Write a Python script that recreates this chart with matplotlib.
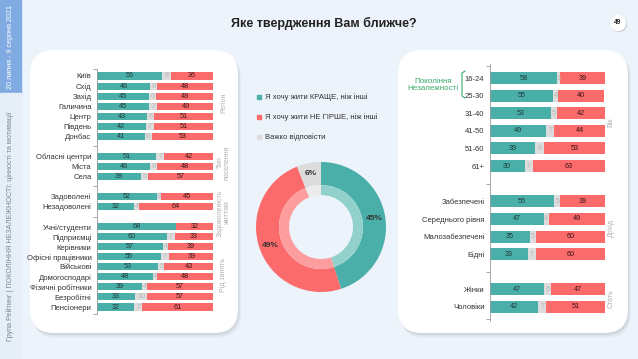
import matplotlib
matplotlib.use("Agg")
import matplotlib.pyplot as plt
from matplotlib.patches import FancyBboxPatch, Rectangle, Circle
import numpy as np

plt.rcParams['font.family'] = ['Liberation Sans', 'DejaVu Sans']

# ---- data ----
left_groups = ['Регіон', 'Тип\nпоселення', 'Задоволеність\nжиттям', 'Рід занять']
left_group_sizes = [7, 3, 2, 9]
left_labels = ['Київ', 'Схід', 'Захід', 'Галичина', 'Центр', 'Південь', 'Донбас',
               'Обласні центри', 'Міста', 'Села',
               'Задоволені', 'Незадоволені',
               'Учні/студенти', 'Підприємці', 'Керівники', 'Офісні працівники',
               'Військові', 'Домогосподарі', 'Фізичні робітники', 'Безробітні', 'Пенсіонери']
left_better = [56, 46, 45, 45, 43, 42, 41, 51, 46, 38, 52, 32, 68, 60, 57, 55, 53, 48, 39, 33, 32]
left_hard = [8, 6, 6, 7, 6, 7, 6, 7, 6, 6, 3, 4, 0, 7, 4, 7, 5, 4, 4, 10, 7]
left_notworse = [36, 48, 49, 49, 51, 51, 53, 42, 48, 57, 45, 64, 32, 33, 39, 39, 43, 48, 57, 57, 61]

right_groups = ['Вік', 'Дохід', 'Стать']
right_group_sizes = [6, 4, 2]
right_labels = ['16-24', '25-30', '31-40', '41-50', '51-60', '61+',
                'Забезпечені', 'Середнього рівня', 'Малозабезпечені', 'Бідні',
                'Жінки', 'Чоловіки']
right_better = [58, 55, 53, 49, 39, 30, 56, 47, 35, 33, 47, 42]
right_hard = [3, 4, 5, 7, 8, 7, 5, 4, 5, 7, 6, 7]
right_notworse = [39, 40, 42, 44, 53, 63, 39, 49, 60, 60, 47, 51]

total_labels = ['Я хочу жити КРАЩЕ, ніж інші', 'Я хочу жити НЕ ГІРШЕ, ніж інші', 'Важко відповісти']
total_values = [45, 49, 6]

# ---- style ----
W, H = 638, 359
BG = '#edf3fa'
TEAL = '#4aafa9'
RED = '#fc6b6b'
GREY = '#dcdcdc'
TEAL_L = '#92d0cc'
RED_L = '#fd9d9d'
GREY_L = '#ececec'
GREEN = '#3aa96b'


def box(x0, y0, x1, y1):
    return [x0 / W, 1 - y1 / H, (x1 - x0) / W, (y1 - y0) / H]


def rows_for(sizes):
    rows, bounds, r = [], [], 0
    for i, n in enumerate(sizes):
        rows.append(list(range(r, r + n)))
        r += n
        if i < len(sizes) - 1:
            bounds.append(r)
        r += 1
    return rows, bounds


def draw_bars(ax, labels, better, hard, worse, sizes, groups, h, fs, glabel_x, gshift):
    grows, bounds = rows_for(sizes)
    y = np.array([r for g in grows for r in g])
    better = np.array(better)
    hard = np.array(hard)
    worse = np.array(worse)
    ax.barh(y, better, height=h, color=TEAL)
    ax.barh(y, hard, left=better, height=h, color=GREY)
    ax.barh(y, worse, left=better + hard, height=h, color=RED)
    for yi, b, g, w in zip(y, better, hard, worse):
        ax.text(b / 2, yi, str(b), ha='center', va='center', fontsize=fs, color='#1d3b39')
        if g > 0:
            ax.text(b + g / 2, yi, str(g), ha='center', va='center', fontsize=fs, color='#b8b8b8')
        ax.text(b + g + w / 2, yi, str(w), ha='center', va='center', fontsize=fs, color='#3a1515')
    ax.set_xlim(0, 100)
    ax.set_ylim(y.max() + 0.7, -0.7)
    ax.set_yticks(y)
    ax.set_yticklabels(labels, fontsize=fs + 0.3, color='#333333')
    ax.tick_params(axis='y', length=0, pad=4)
    ax.set_xticks([])
    ax.set_yticks([-0.7] + bounds + [y.max() + 0.7], minor=True)
    ax.tick_params(axis='y', which='minor', length=3, color='#999999', width=0.6)
    for s in ['top', 'right', 'bottom']:
        ax.spines[s].set_visible(False)
    ax.spines['left'].set_color('#999999')
    ax.spines['left'].set_linewidth(0.6)
    ax.patch.set_alpha(0)
    for rs, name, sh in zip(grows, groups, gshift):
        ax.text(glabel_x, (rs[0] + rs[-1]) / 2 + sh, name, rotation=90, ha='center', va='center',
                fontsize=fs - 0.2, color='#b0b0b0', transform=ax.get_yaxis_transform(),
                linespacing=1.0)


fig = plt.figure(figsize=(W / 100, H / 100), dpi=100)
fig.patch.set_facecolor(BG)

bg = fig.add_axes([0, 0, 1, 1])
bg.set_xlim(0, W)
bg.set_ylim(H, 0)
bg.axis('off')

# side strip
bg.add_patch(Rectangle((0, 0), 21, 93, color='#80aae2', zorder=1))
bg.add_patch(Rectangle((0, 93), 21, H - 93, color='#e6eef8', zorder=1))
bg.text(10.5, 47, '20 липня - 9 серпня 2021', rotation=90, ha='center', va='center',
        fontsize=5.2, color='white')
bg.text(10.5, 226, 'Група Рейтинг | ПОКОЛІННЯ НЕЗАЛЕЖНОСТІ: цінності та мотивації', rotation=90,
        ha='center', va='center', fontsize=5.2, color='#7d8793')

# title and page number
bg.text(324, 23, 'Яке твердження Вам ближче?', ha='center', va='center', fontsize=9,
        fontweight='bold', color='#222222')
bg.add_patch(Circle((619, 24), 7.5, color='#c9cfd6', zorder=2))
bg.add_patch(Circle((618, 23), 7.5, color='white', zorder=3))
bg.text(618, 23, '49', ha='center', va='center', fontsize=4.8, fontweight='bold', color='#222222', zorder=4)

# panels with soft shadow
for x0, y0, x1, y1 in [(30, 50, 238, 333), (398, 50, 628, 333)]:
    for k, a in [(5, 0.08), (3.5, 0.12), (2, 0.18)]:
        bg.add_patch(FancyBboxPatch((x0 + k * 0.6, y0 + k), x1 - x0, y1 - y0,
                                    boxstyle='round,pad=0,rounding_size=24',
                                    fc='#9aa3ad', ec='none', alpha=a, zorder=2))
    bg.add_patch(FancyBboxPatch((x0, y0), x1 - x0, y1 - y0, boxstyle='round,pad=0,rounding_size=24',
                                fc='white', ec='none', zorder=3))

# left bars
axl = fig.add_axes(box(97, 76 - 0.7 * 10.05, 213, 307 + 0.7 * 10.05))
draw_bars(axl, left_labels, left_better, left_hard, left_notworse, left_group_sizes,
          left_groups, 0.7, 5.2, 1.09, [-0.3, -0.4, 1.2, 0.8])

# right bars
axr = fig.add_axes(box(490, 78 - 0.8 * 17.6, 605, 307 + 0.8 * 17.6))
draw_bars(axr, right_labels, right_better, right_hard, right_notworse, right_group_sizes,
          right_groups, 0.68, 5.2, 1.05, [0, 0, 0])
axr.set_ylim(13.8, -0.8)

# generation bracket
bg.text(433, 85, 'Покоління\nНезалежності', ha='center', va='center', fontsize=5.8,
        color=GREEN, linespacing=1.0, zorder=5)
bg.plot([465, 462, 462, 465], [71, 73, 96, 98], color=GREEN, lw=0.8, zorder=5)

# legend
for i, (lab, c) in enumerate(zip(total_labels, [TEAL, RED, GREY])):
    yy = 97 + i * 20
    bg.add_patch(Rectangle((257, yy - 2), 4, 4, color=c, zorder=5))
    bg.text(265, yy, lab, ha='left', va='center', fontsize=5.5, color='#333333', zorder=5)

# donut
axd = fig.add_axes(box(321 - 70, 227 - 70, 321 + 70, 227 + 70))
axd.set_xlim(-70, 70)
axd.set_ylim(-70, 70)
axd.set_aspect('equal')
axd.axis('off')
axd.pie(total_values, radius=65, colors=[TEAL, RED, GREY], startangle=90, counterclock=False,
        wedgeprops=dict(width=23, linewidth=0))
axd.pie(total_values, radius=42, colors=[TEAL_L, RED_L, GREY_L], startangle=90, counterclock=False,
        wedgeprops=dict(width=10, linewidth=0))
axd.set_xlim(-70, 70)
axd.set_ylim(-70, 70)
angles = np.cumsum([0] + total_values[:-1]) + np.array(total_values) / 2
for v, a in zip(total_values, angles):
    th = np.deg2rad(90 - a * 3.6)
    axd.text(54 * np.cos(th), 54 * np.sin(th), f'{v}%', ha='center', va='center',
             fontsize=6, fontweight='bold', color='#333333')

fig.savefig('out.png', dpi=100, facecolor=BG)
